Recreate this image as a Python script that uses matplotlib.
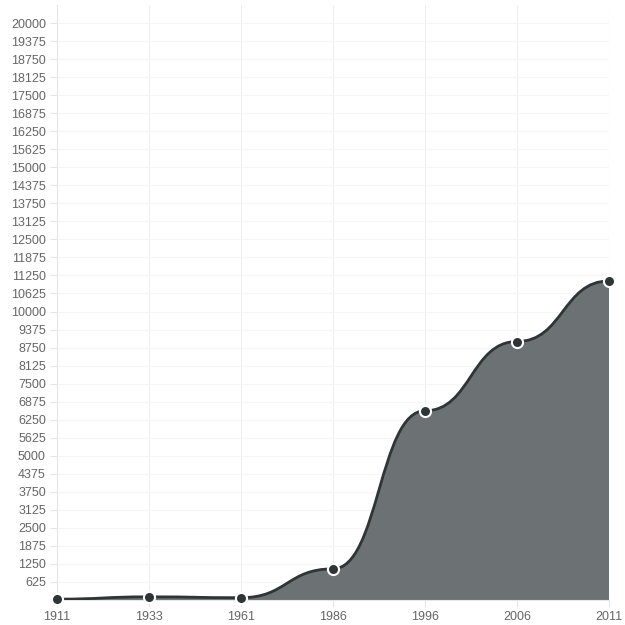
import numpy as np
import matplotlib
matplotlib.use("Agg")
import matplotlib.pyplot as plt
from matplotlib.path import Path
from matplotlib.patches import PathPatch

years = ["1911", "1933", "1961", "1986", "1996", "2006", "2011"]
population = [30, 110, 80, 1080, 6560, 8960, 11060]

y_ticks = list(range(625, 20001, 625))

plt.rcParams['font.family'] = ['Liberation Sans', 'DejaVu Sans']

fig = plt.figure(figsize=(6.25, 6.25), dpi=100)
ax = fig.add_axes([57 / 625, 25 / 625, 552 / 625, 595 / 625])

x = np.arange(len(years))
ax.set_xlim(0, len(years) - 1)
ax.set_ylim(0, 20625)


def bump_path(xs, ys, k=0.5):
    # smooth S-shaped segments with flat tangents at each point
    verts = [(xs[0], ys[0])]
    codes = [Path.MOVETO]
    for i in range(len(xs) - 1):
        dx = xs[i + 1] - xs[i]
        verts += [(xs[i] + k * dx, ys[i]), (xs[i + 1] - k * dx, ys[i + 1]),
                  (xs[i + 1], ys[i + 1])]
        codes += [Path.CURVE4] * 3
    return np.array(verts, dtype=float), codes


verts, codes = bump_path(x, population)

# area under the curve
fill_verts = np.vstack([verts, [[x[-1], 0], [x[0], 0], verts[0]]])
fill_codes = codes + [Path.LINETO, Path.LINETO, Path.CLOSEPOLY]
ax.add_patch(PathPatch(Path(fill_verts, fill_codes), facecolor="#6c7173",
                       edgecolor="none", zorder=2))
ax.add_patch(PathPatch(Path(verts, codes), facecolor="none",
                       edgecolor="#2f3537", linewidth=2, zorder=3))

ax.plot(x, population, linestyle="none", marker="o", markersize=8,
        markerfacecolor="#2f3537", markeredgecolor="white",
        markeredgewidth=1.5, zorder=4, clip_on=False)

ax.set_xticks(x)
ax.set_xticklabels(years)
ax.set_yticks(y_ticks)
ax.set_yticklabels([str(v) for v in y_ticks])

ax.grid(axis="x", color="#eeeeee", linewidth=0.8, zorder=0)
ax.grid(axis="y", color="#f6f6f6", linewidth=0.8, zorder=0)
ax.set_axisbelow(True)

for side in ["top", "right"]:
    ax.spines[side].set_visible(False)
ax.spines["left"].set_color("#e6e6e6")
ax.spines["bottom"].set_color("#e6e6e6")

ax.tick_params(axis="both", colors="#e6e6e6", labelcolor="#666666",
               labelsize=9, length=5)
ax.tick_params(axis="y", pad=3)
ax.tick_params(axis="x", pad=3)

fig.savefig("out.png", dpi=100)
